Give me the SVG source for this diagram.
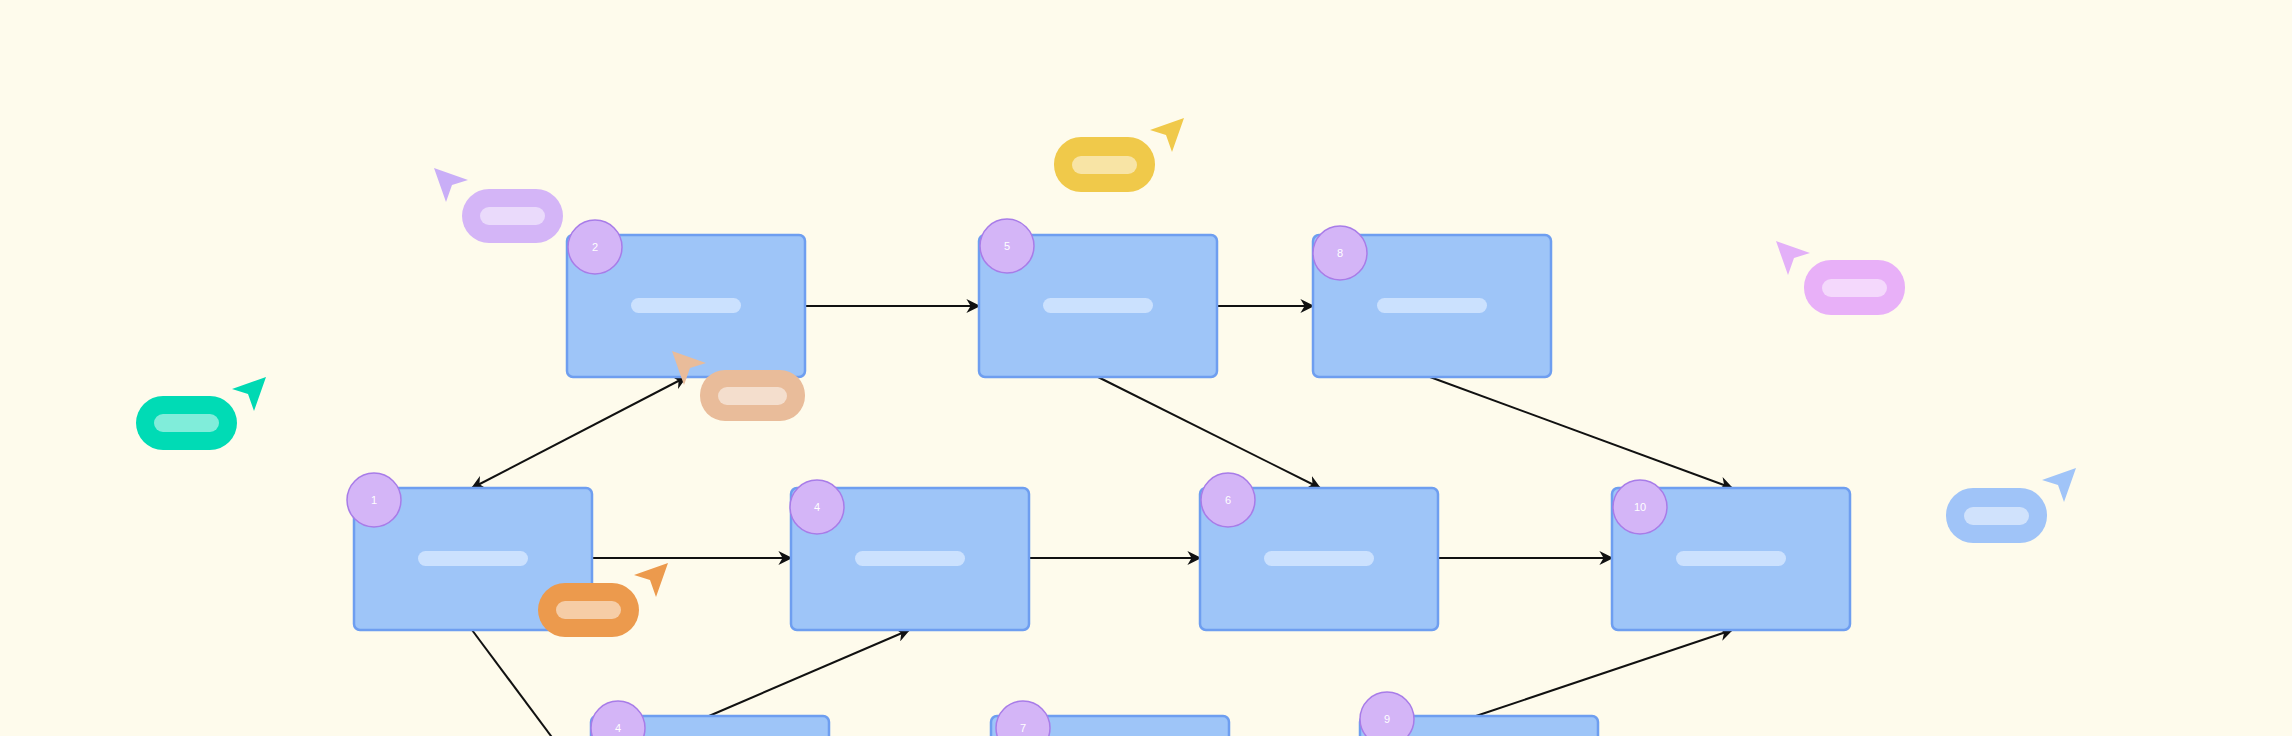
<svg xmlns="http://www.w3.org/2000/svg" width="2292" height="736" viewBox="0 0 2292 736">
<defs>
<style>
.box{fill:#9ec5f8;stroke:#6e9ef0;stroke-width:2.5}
.bar{fill:#d2e5ff;opacity:.85}
.num{fill:#d4b5f7;stroke:#a87ce8;stroke-width:1.5}
.nt{font-family:"Liberation Sans",Arial,sans-serif;font-size:11px;fill:#fff;text-anchor:middle}
.ln{stroke:#111;stroke-width:2;fill:none}
.pb{fill:#fff;opacity:.5}
</style>
<marker id="ah" viewBox="0 0 10 10" refX="9" refY="5" markerWidth="7" markerHeight="7" orient="auto-start-reverse"><path d="M0,0 L10,5 L0,10 L3,5 Z" fill="#111"/></marker>
</defs>
<rect width="2292" height="736" fill="#fefbec"/>
<g id="connectors">
<line class="ln" x1="805" y1="306" x2="979" y2="306" marker-end="url(#ah)"/>
<line class="ln" x1="1217" y1="306" x2="1313" y2="306" marker-end="url(#ah)"/>
<line class="ln" x1="1098" y1="377" x2="1320" y2="488" marker-end="url(#ah)"/>
<line class="ln" x1="1430" y1="377" x2="1732" y2="488" marker-end="url(#ah)"/>
<line class="ln" x1="472" y1="488" x2="686" y2="377" marker-start="url(#ah)" marker-end="url(#ah)"/>
<line class="ln" x1="590" y1="558" x2="791" y2="558" marker-end="url(#ah)"/>
<line class="ln" x1="1028" y1="558" x2="1200" y2="558" marker-end="url(#ah)"/>
<line class="ln" x1="1437" y1="558" x2="1612" y2="558" marker-end="url(#ah)"/>
<line class="ln" x1="709" y1="716" x2="909" y2="630" marker-end="url(#ah)"/>
<line class="ln" x1="1476" y1="716" x2="1732" y2="630" marker-end="url(#ah)"/>
<line class="ln" x1="472" y1="630" x2="554" y2="740"/>
</g>
<g id="n2"><rect class="box" x="567" y="235" width="238" height="142" rx="6"/><rect class="bar" x="631" y="298" width="110" height="15" rx="7.5"/><circle class="num" cx="595" cy="247" r="27"/><text class="nt" x="595" y="251">2</text></g>
<g id="n5"><rect class="box" x="979" y="235" width="238" height="142" rx="6"/><rect class="bar" x="1043" y="298" width="110" height="15" rx="7.5"/><circle class="num" cx="1007" cy="246" r="27"/><text class="nt" x="1007" y="250">5</text></g>
<g id="n8"><rect class="box" x="1313" y="235" width="238" height="142" rx="6"/><rect class="bar" x="1377" y="298" width="110" height="15" rx="7.5"/><circle class="num" cx="1340" cy="253" r="27"/><text class="nt" x="1340" y="257">8</text></g>
<g id="n1"><rect class="box" x="354" y="488" width="238" height="142" rx="6"/><rect class="bar" x="418" y="551" width="110" height="15" rx="7.5"/><circle class="num" cx="374" cy="500" r="27"/><text class="nt" x="374" y="504">1</text></g>
<g id="n4"><rect class="box" x="791" y="488" width="238" height="142" rx="6"/><rect class="bar" x="855" y="551" width="110" height="15" rx="7.5"/><circle class="num" cx="817" cy="507" r="27"/><text class="nt" x="817" y="511">4</text></g>
<g id="n6"><rect class="box" x="1200" y="488" width="238" height="142" rx="6"/><rect class="bar" x="1264" y="551" width="110" height="15" rx="7.5"/><circle class="num" cx="1228" cy="500" r="27"/><text class="nt" x="1228" y="504">6</text></g>
<g id="n10"><rect class="box" x="1612" y="488" width="238" height="142" rx="6"/><rect class="bar" x="1676" y="551" width="110" height="15" rx="7.5"/><circle class="num" cx="1640" cy="507" r="27"/><text class="nt" x="1640" y="511">10</text></g>
<g id="nb4"><rect class="box" x="591" y="716" width="238" height="142" rx="6"/><circle class="num" cx="618" cy="728" r="27"/><text class="nt" x="618" y="732">4</text></g>
<g id="nb7"><rect class="box" x="991" y="716" width="238" height="142" rx="6"/><circle class="num" cx="1023" cy="728" r="27"/><text class="nt" x="1023" y="732">7</text></g>
<g id="nb9"><rect class="box" x="1360" y="716" width="238" height="142" rx="6"/><circle class="num" cx="1387" cy="719" r="27"/><text class="nt" x="1387" y="723">9</text></g>
<g id="cur-purple"><path d="M434,168 l34,12 l-16,5 l-6,17 Z" fill="#c9aef7"/><rect x="462" y="189" width="101" height="54" rx="27" fill="#d4b5f7"/><rect class="pb" x="480" y="207" width="65" height="18" rx="9"/></g>
<g id="cur-yellow"><path d="M1184,118 l-34,12 l16,5 l6,17 Z" fill="#f0c94a"/><rect x="1054" y="137" width="101" height="55" rx="27" fill="#f0c94a"/><rect class="pb" x="1072" y="156" width="65" height="18" rx="9"/></g>
<g id="cur-teal"><path d="M266,377 l-34,12 l16,5 l6,17 Z" fill="#00d9b3"/><rect x="136" y="396" width="101" height="54" rx="27" fill="#00dbb5"/><rect class="pb" x="154" y="414" width="65" height="18" rx="9"/></g>
<g id="cur-peach"><path d="M672,351 l34,12 l-16,5 l-6,17 Z" fill="#e9bc9a"/><rect x="700" y="370" width="105" height="51" rx="25" fill="#e9bc9a"/><rect class="pb" x="718" y="387" width="69" height="18" rx="9"/></g>
<g id="cur-orange"><path d="M668,563 l-34,12 l16,5 l6,17 Z" fill="#ec9a4d"/><rect x="538" y="583" width="101" height="54" rx="27" fill="#ec9a4d"/><rect class="pb" x="556" y="601" width="65" height="18" rx="9"/></g>
<g id="cur-pink"><path d="M1776,241 l34,12 l-16,5 l-6,17 Z" fill="#e3b0f8"/><rect x="1804" y="260" width="101" height="55" rx="27" fill="#e8b0f8"/><rect class="pb" x="1822" y="279" width="65" height="18" rx="9"/></g>
<g id="cur-blue"><path d="M2076,468 l-34,12 l16,5 l6,17 Z" fill="#a0c4f8"/><rect x="1946" y="488" width="101" height="55" rx="27" fill="#a0c4f8"/><rect class="pb" x="1964" y="507" width="65" height="18" rx="9"/></g>
</svg>
